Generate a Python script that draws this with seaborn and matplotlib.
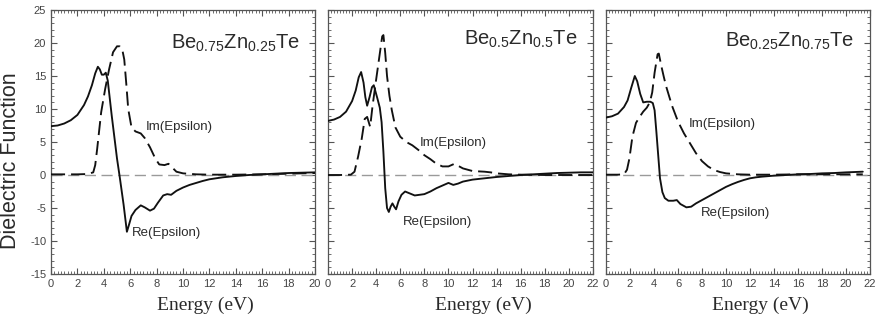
import matplotlib
matplotlib.use("Agg")
import matplotlib.pyplot as plt
from matplotlib.ticker import MultipleLocator
import seaborn as sns
import pandas as pd

# ---------------- data ----------------
titles = [r"Be$_{0.75}$Zn$_{0.25}$Te", r"Be$_{0.5}$Zn$_{0.5}$Te", r"Be$_{0.25}$Zn$_{0.75}$Te"]
xmax = [20, 22, 22]
xticks_lists = [list(range(0, 21, 2)), list(range(0, 23, 2)), list(range(0, 23, 2))]
yticks = [-15, -10, -5, 0, 5, 10, 15, 20, 25]

re1_e = [0, 0.5, 1.0, 1.5, 2.0, 2.5, 2.8, 3.1, 3.35, 3.55, 3.7, 3.85, 4.0, 4.15, 4.3, 4.6, 5.0, 5.2, 5.5,
         5.75, 5.9, 6.1, 6.4, 6.8, 7.1, 7.5, 7.8, 8.1, 8.5, 8.8, 9.1, 9.5, 10, 10.5, 11, 11.5, 12, 13, 14,
         15, 16, 17, 18, 19, 20]
re1_v = [7.4, 7.5, 7.8, 8.3, 9.1, 10.6, 11.9, 13.6, 15.4, 16.4, 16.0, 15.2, 15.2, 15.5, 14.3, 9.0, 2.5, -0.2,
         -4.5, -8.6, -7.6, -6.2, -5.3, -4.6, -4.9, -5.4, -5.1, -4.2, -3.1, -2.9, -3.0, -2.4, -1.9, -1.5, -1.2,
         -0.9, -0.65, -0.35, -0.15, 0.0, 0.1, 0.2, 0.3, 0.35, 0.4]
im1_e = [0, 1, 2, 2.8, 3.2, 3.35, 3.5, 3.8, 4.1, 4.4, 4.7, 5.0, 5.2, 5.4, 5.55, 5.7, 5.85, 6.1, 6.4, 6.8,
         7.1, 7.5, 7.9, 8.2, 8.6, 8.9, 9.2, 9.5, 10, 11, 12, 14, 16, 18, 20]
im1_v = [0.1, 0.1, 0.1, 0.15, 0.4, 1.5, 4.0, 9.5, 13.0, 16.0, 18.6, 19.5, 19.5, 19.0, 17.5, 13.9, 10.0, 7.2,
         6.6, 6.3, 5.6, 4.2, 2.5, 1.6, 1.5, 1.7, 1.1, 0.5, 0.25, 0.1, 0.05, 0.05, 0.1, 0.2, 0.3]

re2_e = [0, 0.5, 1.0, 1.5, 2.0, 2.3, 2.55, 2.75, 2.95, 3.1, 3.25, 3.45, 3.65, 3.8, 3.95, 4.1, 4.3, 4.45,
         4.6, 4.75, 4.9, 5.05, 5.2, 5.35, 5.5, 5.65, 5.85, 6.1, 6.4, 6.8, 7.2, 7.6, 8.0, 8.5, 9.0, 9.5,
         10.0, 10.4, 10.8, 11.2, 12, 13, 14, 15, 16, 17, 18, 19, 20, 21, 22]
re2_v = [8.2, 8.4, 8.8, 9.6, 11.2, 12.8, 14.8, 15.6, 14.0, 11.8, 10.5, 11.8, 13.3, 13.6, 12.6, 11.6, 10.2,
         8.0, 3.5, -2.0, -5.0, -5.6, -4.8, -4.3, -4.8, -5.2, -4.0, -3.0, -2.5, -2.8, -3.1, -3.0, -2.9, -2.5,
         -2.0, -1.6, -1.2, -1.5, -1.3, -1.0, -0.7, -0.5, -0.3, -0.15, 0.0, 0.1, 0.2, 0.3, 0.35, 0.4, 0.4]
im2_e = [0, 1.0, 1.9, 2.2, 2.5, 2.8, 3.05, 3.25, 3.5, 3.7, 4.0, 4.3, 4.5, 4.6, 4.75, 4.9, 5.1, 5.3, 5.6,
         6.0, 6.5, 7.0, 7.5, 8.0, 8.5, 9.0, 9.5, 10.0, 10.5, 10.8, 11.2, 12, 13, 13.5, 14, 15, 16, 18, 20, 22]
im2_v = [0.0, 0.0, 0.05, 0.5, 2.8, 5.5, 8.5, 8.8, 7.3, 10.5, 14.5, 18.4, 21.0, 21.2, 18.5, 15.0, 12.0, 9.8,
         7.2, 5.8, 5.0, 4.5, 3.8, 3.0, 2.4, 1.7, 1.3, 1.3, 1.7, 1.4, 1.0, 0.6, 0.5, 0.4, 0.25, 0.1, 0.05,
         0.0, 0.0, 0.0]

re3_e = [0, 0.5, 1.0, 1.5, 1.8, 2.1, 2.4, 2.6, 2.85, 3.1, 3.4, 3.7, 3.9, 4.05, 4.2, 4.35, 4.5, 4.7, 4.9,
         5.2, 5.6, 5.9, 6.2, 6.7, 7.1, 7.5, 8.0, 8.5, 9.0, 9.5, 10.0, 10.5, 11.0, 11.5, 12, 12.5, 13, 14,
         15, 16, 17, 18, 19, 20, 21.4]
re3_v = [8.7, 8.9, 9.3, 10.3, 11.3, 13.2, 15.0, 14.2, 12.3, 11.0, 11.1, 11.1, 10.9, 9.8, 6.5, 3.0, -0.5,
         -2.6, -3.5, -3.9, -3.9, -3.8, -4.4, -4.9, -4.8, -4.3, -3.8, -3.3, -2.8, -2.3, -1.8, -1.4, -1.05,
         -0.75, -0.5, -0.35, -0.25, -0.1, 0.0, 0.1, 0.15, 0.25, 0.3, 0.4, 0.5]
im3_e = [0, 1.0, 1.5, 1.75, 1.95, 2.2, 2.5, 2.8, 3.1, 3.4, 3.65, 3.85, 4.05, 4.3, 4.4, 4.6, 4.8, 5.0, 5.5,
         6.0, 6.5, 7.0, 7.5, 8.0, 8.5, 9.0, 9.5, 10, 11, 12, 14, 16, 18, 21.4]
im3_v = [0.05, 0.05, 0.1, 0.8, 2.5, 5.8, 7.9, 8.8, 9.6, 10.2, 11.0, 12.5, 15.5, 18.3, 18.4, 16.6, 15.0,
         13.5, 10.5, 8.1, 6.3, 4.8, 3.3, 2.1, 1.3, 0.75, 0.45, 0.25, 0.1, 0.05, 0.05, 0.1, 0.1, 0.1]

re_e = [re1_e, re2_e, re3_e]
re_v = [re1_v, re2_v, re3_v]
im_e = [im1_e, im2_e, im3_e]
im_v = [im1_v, im2_v, im3_v]

# label positions (data coords) for annotations
title_xy = [(18.9, 20.0), (20.7, 20.6), (20.7, 20.2)]
im_lab_xy = [(7.2, 7.3), (7.6, 4.8), (6.9, 7.7)]
re_lab_xy = [(6.1, -8.8), (6.2, -7.1), (7.9, -5.8)]

# ---------------- style ----------------
sns.set_style("ticks")
plt.rcParams["font.family"] = ["Liberation Sans", "DejaVu Sans"]
plt.rcParams["mathtext.fontset"] = "custom"
plt.rcParams["mathtext.rm"] = "Liberation Sans"
plt.rcParams["mathtext.it"] = "Liberation Sans:italic"
plt.rcParams["mathtext.default"] = "rm"
plt.rcParams["axes.unicode_minus"] = False

line_col = "#111111"
text_col = "#2a2a2a"
tick_col = "#444444"
spine_col = "#555555"

fig = plt.figure(figsize=(8.8, 3.25), dpi=100)
lefts = [51 / 880, 328 / 880, 606 / 880]
widths = [264 / 880, 265 / 880, 264 / 880]
bottom = 51 / 325
height = 264 / 325

for i in range(3):
    ax = fig.add_axes([lefts[i], bottom, widths[i], height])
    ax.axhline(0, color="#9a9a9a", lw=1.0, dashes=(8, 4), zorder=1)
    df_re = pd.DataFrame({"E": re_e[i], "v": re_v[i]})
    df_im = pd.DataFrame({"E": im_e[i], "v": im_v[i]})
    sns.lineplot(data=df_re, x="E", y="v", ax=ax, color=line_col, lw=1.35,
                 sort=False, estimator=None, zorder=3)
    sns.lineplot(data=df_im, x="E", y="v", ax=ax, color=line_col, lw=1.35,
                 sort=False, estimator=None, zorder=3)
    ax.lines[-1].set_dashes((7.5, 3.2))

    ax.set_xlim(0, xmax[i])
    ax.set_ylim(-15, 25)
    ax.set_xticks(xticks_lists[i])
    ax.set_yticks(yticks)
    ax.xaxis.set_minor_locator(MultipleLocator(0.25))
    ax.yaxis.set_minor_locator(MultipleLocator(1))
    ax.tick_params(which="both", direction="in", top=True, right=True,
                   color=spine_col, labelcolor=tick_col, labelsize=8, pad=3.5)
    ax.tick_params(which="major", length=4, width=0.8)
    ax.tick_params(which="minor", length=2, width=0.6)
    for s in ax.spines.values():
        s.set_color(spine_col)
        s.set_linewidth(0.9)
    if i == 0:
        ax.set_ylabel("Dielectric Function", fontsize=15.5, color=text_col)
        ax.yaxis.set_label_coords(-0.112, 0.43)
    else:
        ax.set_ylabel("")
        ax.tick_params(labelleft=False)
    ax.set_xlabel("Energy (eV)", fontsize=14, color=text_col,
                  family=["Liberation Serif", "DejaVu Serif"])
    ax.xaxis.set_label_coords(0.585, -0.085)

    tx, ty = title_xy[i]
    ax.text(tx, ty, titles[i], fontsize=14.5, color=text_col, ha="right", va="center")
    ax.text(im_lab_xy[i][0], im_lab_xy[i][1], "Im(Epsilon)", fontsize=9.5,
            color=text_col, ha="left", va="center")
    ax.text(re_lab_xy[i][0], re_lab_xy[i][1], "Re(Epsilon)", fontsize=9.5,
            color=text_col, ha="left", va="center")

fig.savefig("out.png", dpi=100)
